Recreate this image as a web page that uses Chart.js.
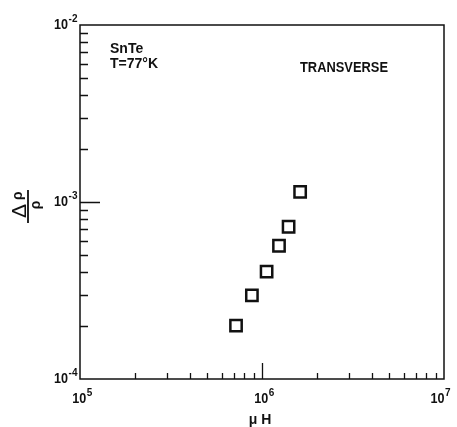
<!DOCTYPE html>
<html>
<head>
<meta charset="utf-8">
<script src="https://cdn.jsdelivr.net/npm/chart.js@4"></script>
<style>
  html, body { margin: 0; padding: 0; background: #fff; }
  #wrap { width: 457px; height: 427px; }
</style>
</head>
<body>
<div id="wrap"><canvas id="mrChart" width="457" height="427"></canvas></div>
<script>
// magnetoresistance data, SnTe at 77 K, transverse
var muH = [7.2e5, 8.8e5, 1.06e6, 1.24e6, 1.40e6, 1.62e6];
var deltaRho = [2.0e-4, 2.97e-4, 4.04e-4, 5.66e-4, 7.25e-4, 1.14e-3];

// decade tick labels (powers of ten)
var xExponents = [5, 6, 7];
var yExponents = [-4, -3, -2];

var ink = '#111';
var font = '"Liberation Sans", Arial, sans-serif';

var points = muH.map(function(x, i) {
    return { x: x, y: deltaRho[i] };
});

// 10 with a raised exponent
function powLabel(ctx, text, exp, x, y, align) {
    var baseFont = 'bold 14px ' + font;
    var supFont = 'bold 10px ' + font;
    ctx.font = baseFont;
    var w1 = Math.min(ctx.measureText(text).width, 14);
    ctx.font = supFont;
    var w2 = ctx.measureText(exp).width;
    var start = x;
    if (align === 'center') start = x - (w1 + w2) / 2;
    if (align === 'right') start = x - (w1 + w2);
    ctx.textAlign = 'left';
    ctx.textBaseline = 'alphabetic';
    ctx.font = baseFont;
    ctx.fillText(text, start, y, 14);
    ctx.font = supFont;
    ctx.fillText(exp, start + w1 + 0.5, y - 7);
}

var axisMarks = {
    id: 'axisMarks',
    afterDraw: function(chart) {
        var ctx = chart.ctx;
        var a = chart.chartArea;
        var xs = chart.scales.x, ys = chart.scales.y;
        ctx.save();
        ctx.strokeStyle = ink;
        ctx.fillStyle = ink;

        // frame
        ctx.lineWidth = 1.5;
        ctx.strokeRect(a.left, a.top, a.right - a.left, a.bottom - a.top);

        // inward ticks
        ctx.lineWidth = 1.3;
        ctx.beginPath();
        for (var e = 5; e < 7; e++) {
            for (var m = 1; m <= 9; m++) {
                var v = m * Math.pow(10, e);
                var px = Math.round(xs.getPixelForValue(v)) + 0.5;
                var len = (m === 1) ? (e === 5 ? 0 : 16) : 6;
                if (!len) continue;
                ctx.moveTo(px, a.bottom);
                ctx.lineTo(px, a.bottom - len);
            }
        }
        for (var e2 = -4; e2 < -2; e2++) {
            for (var m2 = 1; m2 <= 9; m2++) {
                var v2 = m2 * Math.pow(10, e2);
                var py = Math.round(ys.getPixelForValue(v2)) + 0.5;
                var len2 = (m2 === 1) ? (e2 === -4 ? 0 : 20) : 8;
                if (!len2) continue;
                ctx.moveTo(a.left, py);
                ctx.lineTo(a.left + len2, py);
            }
        }
        ctx.stroke();

        // decade labels
        xExponents.forEach(function(ex, i) {
            var px = xs.getPixelForValue(Math.pow(10, ex));
            var al = i === xExponents.length - 1 ? 'right' : 'center';
            powLabel(ctx, '10', String(ex), al === 'right' ? px + 6 : px + 2, 403, al);
        });
        yExponents.forEach(function(ex) {
            var py = ys.getPixelForValue(Math.pow(10, ex));
            powLabel(ctx, '10', String(ex), a.left - 3, py + 4, 'right');
        });

        // x axis title
        ctx.font = 'bold 14px ' + font;
        ctx.textAlign = 'center';
        ctx.textBaseline = 'alphabetic';
        ctx.fillText('\u03bc H', 260, 424);

        // y axis title: fraction, rotated
        ctx.save();
        ctx.translate(28, 205);
        ctx.rotate(-Math.PI / 2);
        ctx.textAlign = 'left';
        ctx.textBaseline = 'alphabetic';
        ctx.font = '21px ' + font;
        ctx.fillText('\u0394', -13, -2);
        ctx.font = 'bold 14px ' + font;
        ctx.fillText('\u03c1', 5, -6);
        ctx.lineWidth = 1.8;
        ctx.beginPath();
        ctx.moveTo(-18, 0);
        ctx.lineTo(15, 0);
        ctx.stroke();
        ctx.textAlign = 'center';
        ctx.fillText('\u03c1', 0, 12);
        ctx.restore();

        // annotations
        ctx.font = 'bold 14px ' + font;
        ctx.textAlign = 'left';
        ctx.textBaseline = 'alphabetic';
        ctx.fillText('SnTe', 110, 53, 34);
        ctx.fillText('T=77\u00b0K', 110, 68);
        ctx.fillText('TRANSVERSE', 300, 72, 88);

        ctx.restore();
    }
};

var ctx = document.getElementById('mrChart').getContext('2d');
var mrChart = new Chart(ctx, {
    type: 'scatter',
    data: {
        datasets: [{
            label: 'transverse',
            data: points,
            pointStyle: 'rect',
            pointRadius: 8,
            pointBorderWidth: 2.5,
            borderColor: ink,
            backgroundColor: 'rgba(0,0,0,0)'
        }]
    },
    options: {
        responsive: false,
        animation: false,
        layout: { padding: { left: 80, right: 13, top: 25, bottom: 48 } },
        plugins: {
            legend: { display: false },
            tooltip: { enabled: false }
        },
        scales: {
            x: {
                type: 'logarithmic',
                min: 1e5,
                max: 1e7,
                grid: { display: false, drawTicks: false },
                border: { display: false },
                ticks: { display: false }
            },
            y: {
                type: 'logarithmic',
                min: 1e-4,
                max: 1e-2,
                grid: { display: false, drawTicks: false },
                border: { display: false },
                ticks: { display: false }
            }
        }
    },
    plugins: [axisMarks]
});
</script>
</body>
</html>
